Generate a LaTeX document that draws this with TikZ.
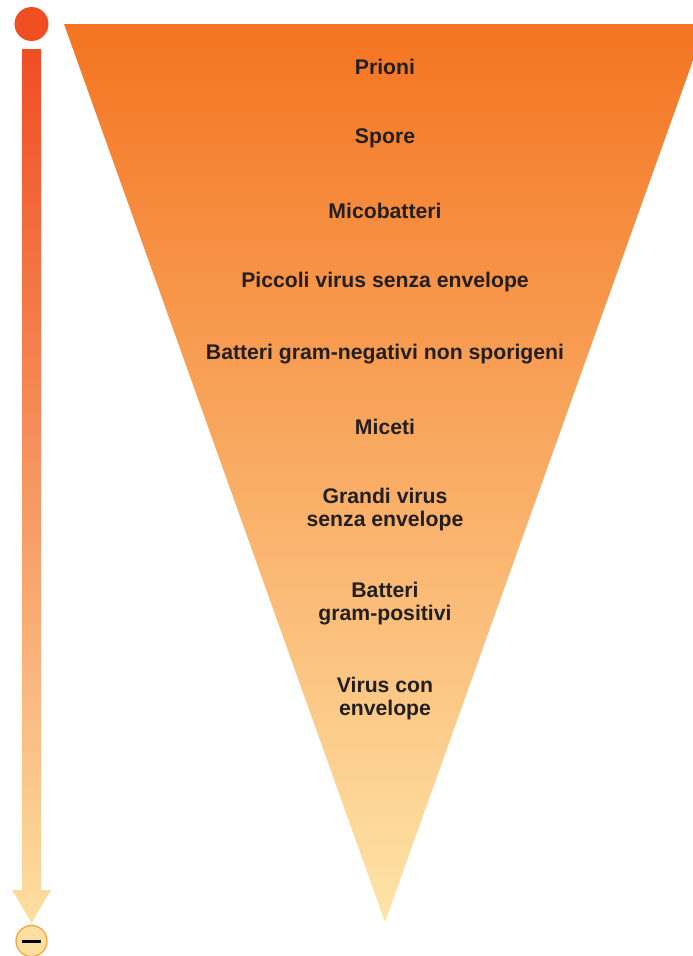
\documentclass[tikz,border=0pt]{standalone}
\usepackage{fontspec}
\setmainfont{Liberation Sans}
\definecolor{toporange}{HTML}{F47421}
\definecolor{lowcream}{HTML}{FEE4A8}
\definecolor{topred}{HTML}{F04E23}
\definecolor{lowsand}{HTML}{FDDFA0}
\definecolor{rimorange}{HTML}{F7A040}
\definecolor{labeltext}{HTML}{231F20}
\begin{document}
\begin{tikzpicture}[x=1pt, y=-1pt]
  \useasboundingbox (0,0) rectangle (693,956);
  \tikzstyle{every node}=[font=\fontsize{21.2}{23}\selectfont\bfseries, text=labeltext, align=center]

  % funnel
  \shade[top color=toporange, bottom color=lowcream]
    (64,24) -- (706,24) -- (385,922) -- cycle;

  % scale on the left
  \shade[top color=topred, bottom color=lowsand]
    (22,49) -- (41,49) -- (41,890) -- (51,890) -- (31.5,923)
    -- (12,890) -- (22,890) -- cycle;
  \path (31.5,24) node[circle, fill=topred, minimum size=34pt, inner sep=0pt] (plus) {};
  \path (31.5,941) node[circle, draw=rimorange, line width=1.2pt, fill=lowsand, minimum size=31pt, inner sep=0pt] (minus) {};
  \draw[line width=3pt, black] ([xshift=-9.5pt]minus.center) -- ([xshift=9.5pt]minus.center);

  % labels
  \foreach \name/\y/\txt in {
      prioni/66.5/Prioni,
      spore/138.5/Spore,
      mico/210.5/Micobatteri,
      piccoli/282.5/Piccoli virus senza envelope,
      gramneg/354.5/Batteri gram-negativi non sporigeni,
      miceti/426.5/Miceti,
      grandi/509.5/Grandi virus\\senza envelope,
      grampos/603.5/Batteri\\gram-positivi,
      virus/698.5/Virus con\\envelope}
  {
    \path (385,\y) node (\name) {\txt};
  }
\end{tikzpicture}
\end{document}
